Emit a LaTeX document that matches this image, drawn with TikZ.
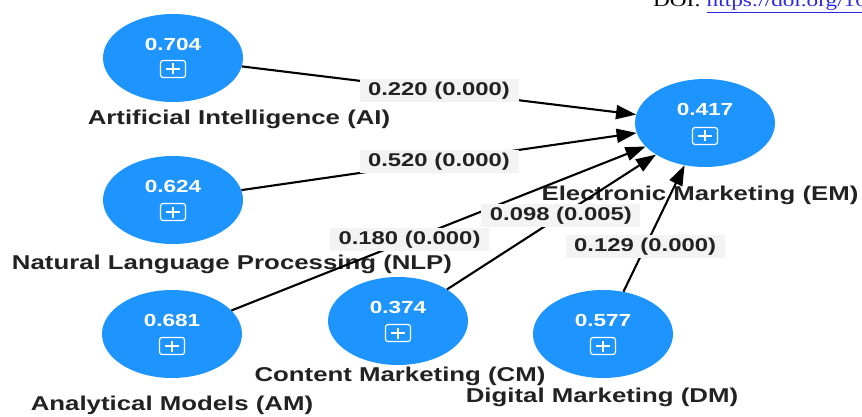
\documentclass[tikz,border=0pt]{standalone}
\usepackage{fontspec}
\newfontfamily\plsfont[FakeStretch=1.29]{Liberation Sans}
\newfontfamily\doifont[FakeStretch=1.29]{Liberation Serif}
\usetikzlibrary{shapes.geometric, arrows.meta}

\definecolor{plsblue}{RGB}{30,148,255}
\definecolor{coefbg}{RGB}{243,243,243}
\definecolor{lbltext}{RGB}{34,34,34}
\definecolor{linkblue}{RGB}{40,40,230}

\tikzset{
  construct/.style={ellipse, fill=plsblue, minimum width=140pt, minimum height=88pt, inner sep=0pt},
  rsq/.style={text=white, font=\plsfont\bfseries\fontsize{17.5}{20}\selectfont, inner sep=0pt},
  expand/.style={draw=white, line width=1.2pt, rounded corners=2.5pt,
    minimum width=25pt, minimum height=17pt, inner sep=0pt,
    path picture={
      \draw[white, line width=1.2pt]
        ([xshift=-7pt]path picture bounding box.center) -- ([xshift=7pt]path picture bounding box.center)
        ([yshift=-5.5pt]path picture bounding box.center) -- ([yshift=5.5pt]path picture bounding box.center);
    }},
  cname/.style={text=lbltext, font=\plsfont\bfseries\fontsize{20}{24}\selectfont, inner sep=0pt},
  coef/.style={fill=coefbg, text=lbltext, font=\plsfont\bfseries\fontsize{18.5}{22}\selectfont,
    minimum width=159pt, minimum height=23pt, inner sep=0pt},
  link/.style={draw=black, line width=2.1pt, -{Triangle[length=20pt,width=14pt]}}
}

\begin{document}
\begin{tikzpicture}[x=1pt, y=-1pt]
	\useasboundingbox (0,0) rectangle (862,417);
	\clip (0,0) rectangle (862,417);

	% constructs
	\node[construct] (AI) at (173,58) {};
	\node[construct] (NLP) at (173,200) {};
	\node[construct] (AM) at (172,334) {};
	\node[construct] (CM) at (398,321) {};
	\node[construct] (DM) at (603,334) {};
	\node[construct] (EM) at (705,123) {};

	\node[rsq] (vAI) at (173,44) {0.704};
	\node[rsq] (vNLP) at (173,186) {0.624};
	\node[rsq] (vAM) at (172,320) {0.681};
	\node[rsq] (vCM) at (398,307) {0.374};
	\node[rsq] (vDM) at (603,320) {0.577};
	\node[rsq] (vEM) at (705,109) {0.417};

	\node[expand] (bAI) at (173,69) {};
	\node[expand] (bNLP) at (173,212) {};
	\node[expand] (bAM) at (172,346) {};
	\node[expand] (bCM) at (398,333) {};
	\node[expand] (bDM) at (603,346) {};
	\node[expand] (bEM) at (705,136) {};

	% names
	\node[cname] (nAI) at (239,119) {Artificial Intelligence (AI)};
	\node[cname] (nNLP) at (232,264) {Natural Language Processing (NLP)};
	\node[cname] (nAM) at (172,405) {Analytical Models (AM)};
	\node[cname] (nCM) at (400,376) {Content Marketing (CM)};
	\node[cname] (nDM) at (602,397) {Digital Marketing (DM)};
	\node[cname] (nEM) at (700,195) {Electronic Marketing (EM)};

	% paths
	\draw[link] (AI) -- node[coef, pos=0.5] (cAI) {0.220 (0.000)} (EM);
	\draw[link] (NLP) -- node[coef, pos=0.5] (cNLP) {0.520 (0.000)} (EM);
	\draw[link] (AM) -- node[coef, pos=0.43] (cAM) {0.180 (0.000)} (EM);
	\draw[link] (CM) -- node[coef, pos=0.545] (cCM) {0.098 (0.005)} (EM);
	\draw[link] (DM) -- node[coef, pos=0.354] (cDM) {0.129 (0.000)} (EM);

	\node[anchor=base west, inner sep=0pt, font=\doifont\fontsize{18}{20}\selectfont] (doi) at (653,7)
		{DOI: \textcolor{linkblue}{\underline{https://doi.org/10}}};
\end{tikzpicture}
\end{document}
